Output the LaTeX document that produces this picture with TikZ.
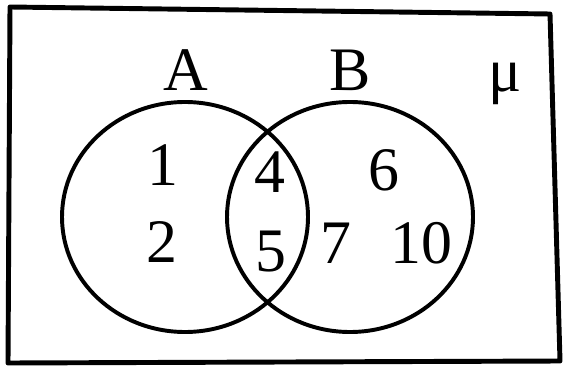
\documentclass[tikz,border=0pt]{standalone}
\usepackage{fontspec}
\setmainfont{Liberation Serif}
\usetikzlibrary{positioning}

\tikzset{
  setname/.style={font=\fontsize{44}{50}\selectfont,inner sep=0pt},
  elem/.style={font=\fontsize{44}{50}\selectfont,inner sep=0pt},
  setline/.style={line width=2.8pt},
}

\begin{document}
\begin{tikzpicture}[x=0.025cm,y=-0.025cm]
        \useasboundingbox (0,0) rectangle (563,366);
        % universal set
        \draw[line width=3.5pt,line join=round] (10,7) -- (550,14) -- (560,361) -- (8,363) -- cycle;
        \node[elem] (mu) at (505,84) {μ};
        % the two sets
        \draw[setline] (185,217) ellipse [x radius=123,y radius=115];
        \draw[setline] (350,217) ellipse [x radius=123,y radius=115];
        \node[setname] (labA) at (186,70) {A};
        \node[setname] (labB) at (350,70) {B};
        % elements
        \node[elem] (e1) at (163,165) {1};
        \node[elem] (e2) at (162,242) {2};
        \node[elem] (e4) at (270,172) {4};
        \node[elem] (e5) at (271,252) {5};
        \node[elem] (e6) at (384,170) {6};
        \node[elem] (e7) at (336,243) {7};
        \node[elem] (e10) at (421,243) {10};
      \end{tikzpicture}
\end{document}
